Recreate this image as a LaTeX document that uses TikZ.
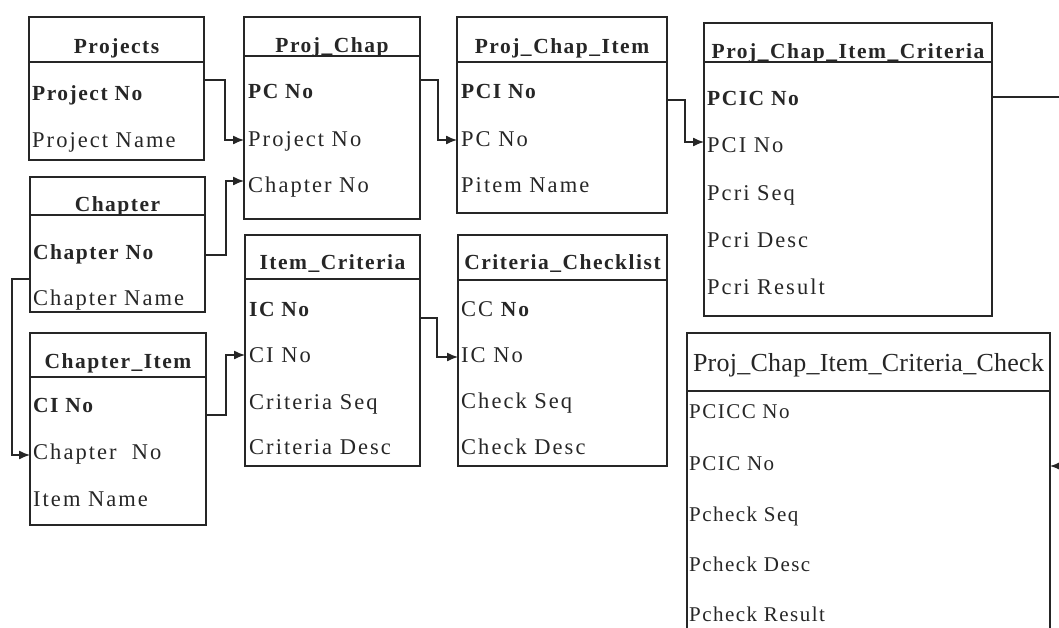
\documentclass[tikz,border=0pt]{standalone}
\usepackage{fontspec}
\setmainfont{Liberation Serif}[LetterSpace=7]
\usetikzlibrary{arrows.meta}
\tikzset{
 tbl/.style={draw=black!85, line width=1.3pt, rectangle, inner sep=0pt, outer sep=0pt},
 sepline/.style={draw=black!85, line width=1.3pt},
 ttl/.style={font=\fontsize{21.5}{25}\selectfont\bfseries, text=black!85, inner sep=0pt, anchor=base},
 fld/.style={font=\fontsize{22.5}{26}\selectfont\addfontfeature{LetterSpace=9}, text=black!85, inner sep=0pt, anchor=base west},
 key/.style={fld, font=\fontsize{21.5}{25}\selectfont\bfseries},
 cfld/.style={fld, font=\fontsize{21}{25}\selectfont},
 link/.style={draw=black!85, line width=1.3pt, -{Latex[length=11pt,width=9pt]}},
}
\newcommand\mktable[6]{% name x1 x2 top sep bottom
  \node[tbl, minimum width={(#3-#2)*1pt}, minimum height={(#6-#4)*1pt}] (#1) at ({(#2+#3)/2},{(#4+#6)/2}) {};
  \draw[sepline] (#1.west |- 0,#5) -- (#1.east |- 0,#5);
}
\begin{document}
\begin{tikzpicture}[x=1pt,y=-1pt]
\useasboundingbox (0,0) rectangle (1059,627);
\clip (0,0) rectangle (1059,627);

% Projects
\mktable{projects}{29}{204}{17}{62}{160}
\node[ttl] (projects-t) at (116.5,53) {Projects};
\node[key] (projects-1) at (32,100) {Project No};
\node[fld] (projects-2) at (32,147) {Project Name};

% Chapter
\mktable{chapter}{30}{205}{177}{215}{312}
\node[ttl] (chapter-t) at (117.5,211) {Chapter};
\node[key] (chapter-1) at (33,259) {Chapter No};
\node[fld] (chapter-2) at (33,305) {Chapter Name};

% Chapter_Item
\mktable{chapitem}{30}{206}{333}{377}{525}
\node[ttl] (chapitem-t) at (118,368) {Chapter\_Item};
\node[key] (chapitem-1) at (33,412) {CI No};
\node[fld] (chapitem-2) at (33,459) {Chapter\ \ No};
\node[fld] (chapitem-3) at (33,506) {Item Name};

% Proj_Chap
\mktable{projchap}{244}{420}{17}{56}{219}
\node[ttl] (projchap-t) at (332,52) {Proj\_Chap};
\node[key] (projchap-1) at (248,98) {PC No};
\node[fld] (projchap-2) at (248,146) {Project No};
\node[fld] (projchap-3) at (248,192) {Chapter No};

% Item_Criteria
\mktable{itemcrit}{245}{420}{235}{279}{466}
\node[ttl] (itemcrit-t) at (332.5,269) {Item\_Criteria};
\node[key] (itemcrit-1) at (249,316) {IC No};
\node[fld] (itemcrit-2) at (249,362) {CI No};
\node[fld] (itemcrit-3) at (249,409) {Criteria Seq};
\node[fld] (itemcrit-4) at (249,454) {Criteria Desc};

% Proj_Chap_Item
\mktable{pci}{457}{667}{17}{62}{213}
\node[ttl] (pci-t) at (562,53) {Proj\_Chap\_Item};
\node[key] (pci-1) at (461,98) {PCI No};
\node[fld] (pci-2) at (461,146) {PC No};
\node[fld] (pci-3) at (461,192) {Pitem Name};

% Criteria_Checklist
\mktable{critcheck}{458}{667}{235}{280}{466}
\node[ttl] (critcheck-t) at (562.5,269) {Criteria\_Checklist};
\node[fld] (critcheck-1) at (461,316) {CC {\fontsize{21.5}{25}\selectfont\bfseries No}};
\node[fld] (critcheck-2) at (461,362) {IC No};
\node[fld] (critcheck-3) at (461,408) {Check Seq};
\node[fld] (critcheck-4) at (461,454) {Check Desc};

% Proj_Chap_Item_Criteria
\mktable{pcic}{704}{992}{23}{62}{316}
\node[ttl] (pcic-t) at (848,58) {Proj\_Chap\_Item\_Criteria};
\node[key] (pcic-1) at (707,105) {PCIC No};
\node[fld] (pcic-2) at (707,152) {PCI No};
\node[fld] (pcic-3) at (707,200) {Pcri Seq};
\node[fld] (pcic-4) at (707,247) {Pcri Desc};
\node[fld] (pcic-5) at (707,294) {Pcri Result};

% Proj_Chap_Item_Criteria_Check
\mktable{pcicc}{687}{1050}{333}{391}{680}
\node[ttl, font=\fontsize{26}{30}\selectfont\addfontfeature{LetterSpace=1}] (pcicc-t) at (868.5,371) {Proj\_Chap\_Item\_Criteria\_Check};
\node[cfld] (pcicc-1) at (689,418) {PCICC No};
\node[cfld] (pcicc-2) at (689,470) {PCIC No};
\node[cfld] (pcicc-3) at (689,521) {Pcheck Seq};
\node[cfld] (pcicc-4) at (689,571) {Pcheck Desc};
\node[cfld] (pcicc-5) at (689,621) {Pcheck Result};

% connectors
\draw[link] (projects.east |- 0,80) -- (225,80) -- (225,140) -- (projchap.west |- 0,140);
\draw[link] (chapter.east |- 0,255) -- (226,255) -- (226,181) -- (projchap.west |- 0,181);
\draw[link] (chapter.west |- 0,279) -- (12,279) -- (12,455) -- (chapitem.west |- 0,455);
\draw[link] (chapitem.east |- 0,415) -- (226,415) -- (226,355) -- (itemcrit.west |- 0,355);
\draw[link] (projchap.east |- 0,80) -- (438,80) -- (438,140) -- (pci.west |- 0,140);
\draw[link] (itemcrit.east |- 0,318) -- (437,318) -- (437,357) -- (critcheck.west |- 0,357);
\draw[link] (pci.east |- 0,100) -- (685,100) -- (685,142) -- (pcic.west |- 0,142);
\draw[link] (pcic.east |- 0,97) -- (1080,97) -- (1080,466) -- (pcicc.east |- 0,466);
\end{tikzpicture}
\end{document}
